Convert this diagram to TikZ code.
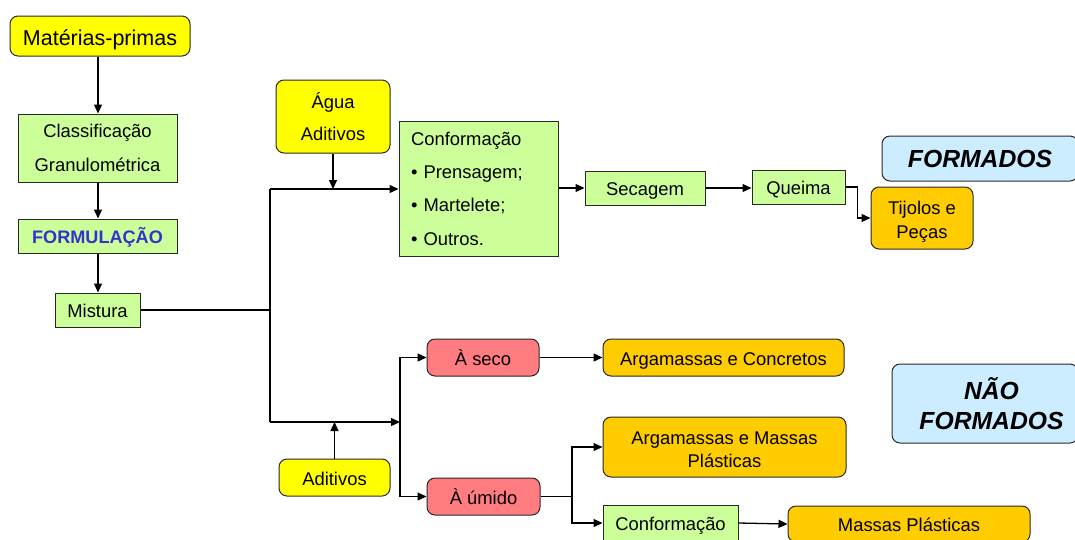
\documentclass[tikz,border=0pt]{standalone}
\usepackage{fontspec}
\setmainfont{Liberation Sans}
\usetikzlibrary{arrows.meta}
\definecolor{cYel}{RGB}{255,255,0}
\definecolor{cGrn}{RGB}{204,255,153}
\definecolor{cOra}{RGB}{255,204,0}
\definecolor{cRed}{RGB}{255,124,128}
\definecolor{cBlu}{RGB}{204,236,255}
\definecolor{cTxtBlue}{RGB}{51,51,204}
\definecolor{cBord}{RGB}{40,40,40}
\newcommand{\fsN}{\fontsize{18.4}{34}\selectfont}
\begin{document}
\begin{tikzpicture}[x=1pt,y=-1pt,
  base/.style={draw=cBord,line width=1pt,inner sep=0pt,align=center,font=\fsN},
  sq/.style={base,fill=cGrn},
  rnd/.style={base,rounded corners=8pt},
  one/.style={text height=16pt,text depth=0.6pt},
  ln/.style={line width=1.3pt,black},
  arr/.style={ln,-{Triangle[length=9pt,width=8pt]}}]
\useasboundingbox (0,0) rectangle (1075,539);
\clip (0,0) rectangle (1075,539);
% left column
\node[rnd,fill=cYel,minimum width=180,minimum height=40,font=\fontsize{21.5}{26}\selectfont,text height=20pt,text depth=0.6pt] (mat) at (100,36) {Matérias-primas};
\node[sq,minimum width=159,minimum height=68] (cls) at (97.5,148) {Classificação\\Granulométrica};
\node[sq,one,minimum width=159,minimum height=34,font=\fontsize{18.1}{22}\selectfont\bfseries,text=cTxtBlue] (frm) at (97.5,236) {FORMULAÇÃO};
\node[sq,one,minimum width=85,minimum height=34] (mis) at (97.5,310) {Mistura};
% top branch
\node[rnd,fill=cYel,minimum width=114,minimum height=73,font=\fontsize{18.4}{32}\selectfont] (agua) at (333,116.5) {Água\\Aditivos};
\node[sq,minimum width=159,minimum height=135,text width=135,align=left,font=\fontsize{18.4}{33.3}\selectfont] (conf) at (478.5,188.5) {Conformação\\• Prensagem;\\• Martelete;\\• Outros.};
\node[sq,one,minimum width=120,minimum height=34] (sec) at (645,188) {Secagem};
\node[sq,one,minimum width=93,minimum height=34] (que) at (798.5,187) {Queima};
\node[rnd,fill=cOra,minimum width=102,minimum height=62,font=\fontsize{18.4}{24}\selectfont] (tij) at (922,218) {\rule{0pt}{21.5pt}Tijolos e\\Peças};
\node[rnd,fill=cBlu,minimum width=196,minimum height=45,font=\fontsize{24.7}{30}\selectfont\bfseries\itshape] (fmd) at (980,158.5) {FORMADOS};
% bottom branch
\node[rnd,one,fill=cRed,minimum width=112,minimum height=37] (seco) at (483,357.5) {À seco};
\node[rnd,one,fill=cRed,minimum width=113,minimum height=37] (umi) at (483.5,496.5) {À úmido};
\node[rnd,one,fill=cYel,minimum width=111,minimum height=37] (adi) at (334.5,477.5) {Aditivos};
\node[rnd,one,fill=cOra,minimum width=241,minimum height=37] (argc) at (723.5,357.5) {Argamassas e Concretos};
\node[rnd,fill=cOra,minimum width=243,minimum height=60,font=\fontsize{18.4}{23}\selectfont] (argm) at (724.5,447) {\rule{0pt}{19pt}Argamassas e Massas\\Plásticas};
\node[sq,one,minimum width=135,minimum height=36] (conf2) at (670.5,523) {Conformação};
\node[rnd,one,fill=cOra,minimum width=242,minimum height=36] (mpl) at (909,524) {Massas Plásticas};
\node[rnd,fill=cBlu,minimum width=186,minimum height=79,font=\fontsize{24.7}{30}\selectfont\bfseries\itshape] (nfm) at (985,403.5) {\hspace*{13pt}NÃO\\\hspace*{13pt}FORMADOS};
% connectors
\draw[arr] (mat.south -| 98,0) -- (cls.north -| 98,0);
\draw[arr] (cls.south -| 98,0) -- (frm.north -| 98,0);
\draw[arr] (frm.south -| 98,0) -- (mis.north -| 98,0);
\coordinate (tr) at (270,310);
\coordinate (trT) at (270,189);
\coordinate (trB) at (270,422);
\draw[ln] (mis.east |- tr) -- (tr);
\draw[ln] (trT) -- (trB);
\draw[arr] (trT) -- (conf.west |- trT);
\draw[arr] (agua.south) -- (agua.south |- trT);
\draw[arr] (conf.east |- sec.west) -- (sec.west);
\draw[arr] (sec.east) -- (que.west |- sec.east);
\draw[arr] (que.east) -- ++(12,0) |- (tij.west);
\coordinate (sp) at (400,422);
\draw[arr] (trB) -- (sp);
\draw[arr] (adi.north) -- (adi.north |- trB);
\draw[arr] (sp) |- (seco.west);
\draw[arr] (sp) |- (umi.west);
\draw[arr] (seco.east) -- (argc.west);
\coordinate (sp2) at (572,496.5);
\draw[ln] (umi.east) -- (sp2);
\draw[arr] (sp2) |- (argm.west);
\draw[arr] (sp2) |- (conf2.west);
\draw[arr] (conf2.east) -- (mpl.west);
\end{tikzpicture}
\end{document}
